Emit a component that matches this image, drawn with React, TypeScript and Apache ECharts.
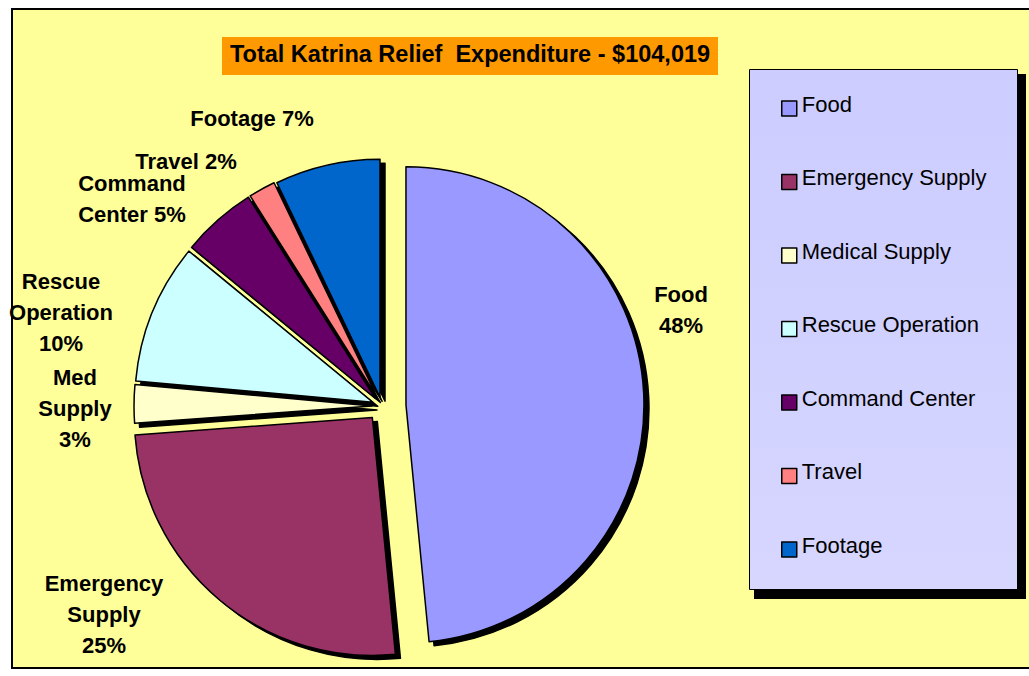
import React, { useEffect, useRef } from "react";
import * as echarts from "echarts";

// ---- data ----
const categories = [
  "Food",
  "Emergency Supply",
  "Medical Supply",
  "Rescue Operation",
  "Command Center",
  "Travel",
  "Footage",
];
// estimated dollar amounts (total $104,019)
const expenditure = [50400, 26400, 2700, 9900, 5300, 1900, 7419];
const labelNames = ["Food", "Emergency\nSupply", "Med\nSupply", "Rescue\nOperation", "Command\nCenter", "Travel", "Footage"];
const titleText = "Total Katrina Relief  Expenditure - $104,019";

// ---- style / layout ----
const COLORS = ["#9999FF", "#993366", "#FFFFCC", "#CCFFFF", "#660066", "#FF8080", "#0066CC"];
const LABEL_BREAK = ["\n", "\n", "\n", "\n", " ", " ", " "];
const CENTER = [382, 406];
const RADIUS = 238;
const EXPLODE = [24, 15, 10, 10, 10, 10, 9];
const SHADOW = [5, 4];
const LABEL_OFFSET = [
  [299, -96],
  [-278, 208],
  [-307, 2],
  [-321, -94],
  [-250, -207],
  [-196, -245],
  [-130, -288],
];
const LABEL_FONT = "'Liberation Sans', Arial, sans-serif";

function midAngles(values: number[]) {
  const total = values.reduce((a, b) => a + b, 0);
  let acc = 0;
  return values.map((v) => {
    const a0 = acc;
    acc += (v / total) * 360;
    return (a0 + acc) / 2;
  });
}

function buildOption() {
  const mids = midAngles(expenditure);
  const series: any[] = [];
  const makeSeries = (i: number, shadow: boolean) => {
    const rad = (mids[i] * Math.PI) / 180;
    const cx = CENTER[0] + EXPLODE[i] * Math.sin(rad) + (shadow ? SHADOW[0] : 0);
    const cy = CENTER[1] - EXPLODE[i] * Math.cos(rad) + (shadow ? SHADOW[1] : 0);
    return {
      type: "pie",
      id: (shadow ? "shadow-" : "slice-") + i,
      center: [cx, cy],
      radius: RADIUS,
      startAngle: 90,
      clockwise: true,
      avoidLabelOverlap: false,
      silent: true,
      z: shadow ? 1 : 2,
      emphasis: { disabled: true },
      labelLine: { show: false },
      label: { show: false },
      labelLayout: shadow
        ? undefined
        : (params: any) => {
            const off = LABEL_OFFSET[params.dataIndex];
            return {
              x: CENTER[0] + off[0],
              y: CENTER[1] + off[1],
              align: "center",
              verticalAlign: "middle",
            };
          },
      data: categories.map((name, j) => ({
        name,
        value: expenditure[j],
        itemStyle:
          j === i
            ? {
                color: shadow ? "#000" : COLORS[j],
                borderColor: "#000",
                borderWidth: 1.5,
              }
            : { color: "rgba(0,0,0,0)", borderWidth: 0 },
        label:
          j === i && !shadow
            ? {
                show: true,
                position: "outside",
                formatter: (p: any) =>
                  labelNames[p.dataIndex] + LABEL_BREAK[p.dataIndex] + Math.round(p.percent) + "%",
                fontFamily: LABEL_FONT,
                fontWeight: "bold",
                fontSize: 22,
                lineHeight: 31,
                color: "#000",
              }
            : { show: false },
      })),
    };
  };
  categories.forEach((_, i) => series.push(makeSeries(i, false)));
  categories.forEach((_, i) => series.push(makeSeries(i, true)));

  return {
    animation: false,
    backgroundColor: "#FFFFFF",
    graphic: [
      {
        type: "rect",
        z2: 0,
        shape: { x: 12, y: 9, width: 1030, height: 659 },
        style: { fill: "#FFFF99", stroke: "#000", lineWidth: 2 },
        silent: true,
      },
      {
        type: "rect",
        z2: 1,
        shape: { x: 222, y: 37, width: 496, height: 38 },
        style: { fill: "#FF9900" },
        silent: true,
      },
      {
        type: "text",
        z2: 2,
        x: 470,
        y: 54,
        style: {
          text: titleText,
          fill: "#000",
          font: "bold 23.5px 'Liberation Sans', Arial, sans-serif",
          align: "center",
          verticalAlign: "middle",
        },
        silent: true,
      },
      {
        type: "rect",
        z2: 1,
        shape: { x: 754, y: 74, width: 272, height: 525 },
        style: { fill: "#000" },
        silent: true,
      },
      {
        type: "rect",
        z2: 2,
        shape: { x: 749.5, y: 69.5, width: 268, height: 520 },
        style: {
          fill: new echarts.graphic.LinearGradient(0, 0, 0, 1, [
            { offset: 0, color: "#CCCCFF" },
            { offset: 1, color: "#D6D6FF" },
          ]),
          stroke: "#000",
          lineWidth: 1,
        },
        silent: true,
      },
    ],
    legend: {
      orient: "vertical",
      left: 781,
      top: 93,
      padding: 0,
      itemWidth: 15,
      itemHeight: 15,
      itemGap: 42.5,
      icon: "rect",
      selectedMode: false,
      formatter: "{t|{name}}",
      textStyle: {
        fontFamily: LABEL_FONT,
        fontSize: 22,
        color: "#000",
        rich: {
          t: {
            fontFamily: LABEL_FONT,
            fontSize: 22,
            color: "#000",
            lineHeight: 22,
            padding: [0, 0, 9, 0],
          },
        },
      },
      data: categories.map((name, i) => ({
        name,
        itemStyle: { color: COLORS[i], borderColor: "#000", borderWidth: 1.5 },
      })),
    },
    series,
  };
}

export default function App() {
  const ref = useRef<HTMLDivElement>(null);
  useEffect(() => {
    if (!ref.current) return;
    const chart = echarts.init(ref.current, undefined, { renderer: "svg" });
    chart.setOption(buildOption() as any);
    return () => chart.dispose();
  }, []);
  return (
    <div
      ref={ref}
      style={{ position: "absolute", left: 0, top: 0, width: 1029, height: 676 }}
    />
  );
}
